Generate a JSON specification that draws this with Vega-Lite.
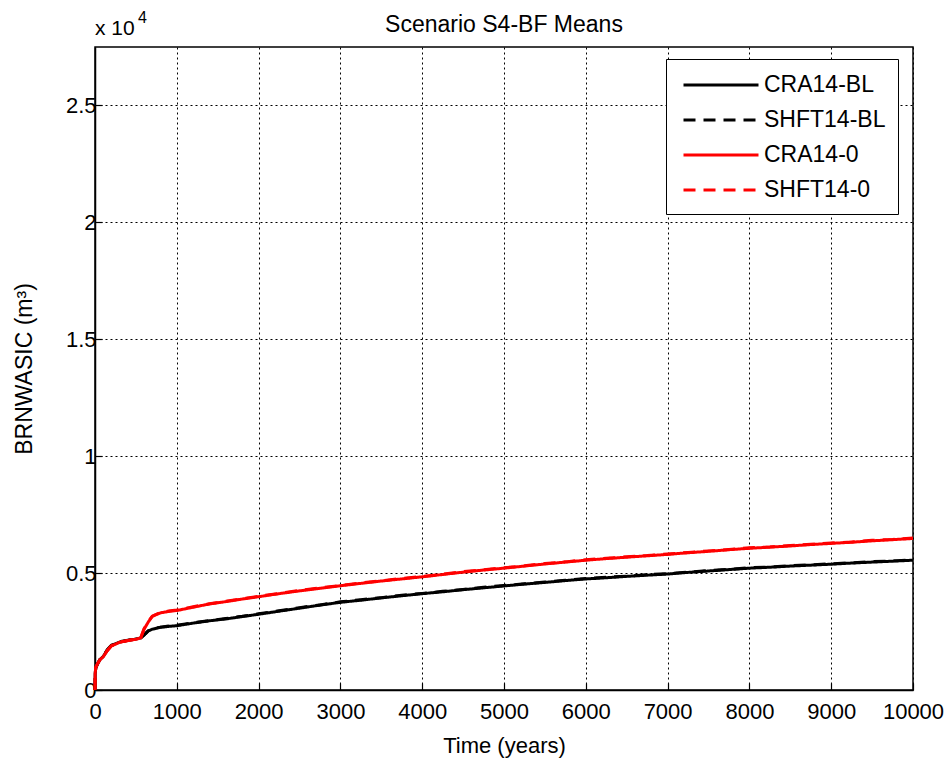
{
  "$schema": "https://vega.github.io/schema/vega-lite/v6.json",
  "width": 818,
  "height": 643,
  "autosize": "none",
  "padding": {"left": 95, "top": 47, "right": 39, "bottom": 71},
  "background": "white",
  "config": {
    "font": "Liberation Sans",
    "view": {"stroke": "black", "strokeWidth": 1.5},
    "axis": {
      "domainColor": "black", "domainWidth": 1.5,
      "gridColor": "black", "gridDash": [2, 3], "gridWidth": 1, "gridOpacity": 1,
      "tickColor": "black", "tickSize": -7, "tickWidth": 1.2,
      "labelColor": "black", "labelFontSize": 22, "labelFont": "Liberation Sans",
      "titleColor": "black", "titleFontSize": 22, "titleFontWeight": "normal", "titleFont": "Liberation Sans"
    }
  },
  "title": {"text": "Scenario S4-BF Means", "fontSize": 23, "fontWeight": "normal", "color": "black", "offset": -45, "frame": "group", "baseline": "alphabetic", "font": "Liberation Sans"},
  "layer": [
    {
      "data": {"values": [
        {"t": 0, "cbl": 0, "sbl": 0, "c0": 0, "s0": 0},
        {"t": 2, "cbl": 700, "sbl": 720, "c0": 720, "s0": 700},
        {"t": 10, "cbl": 950, "sbl": 960, "c0": 980, "s0": 970},
        {"t": 30, "cbl": 1100, "sbl": 1120, "c0": 1120, "s0": 1110},
        {"t": 60, "cbl": 1300, "sbl": 1310, "c0": 1290, "s0": 1300},
        {"t": 100, "cbl": 1430, "sbl": 1440, "c0": 1420, "s0": 1430},
        {"t": 150, "cbl": 1700, "sbl": 1720, "c0": 1680, "s0": 1690},
        {"t": 200, "cbl": 1900, "sbl": 1910, "c0": 1880, "s0": 1890},
        {"t": 300, "cbl": 2050, "sbl": 2060, "c0": 2040, "s0": 2050},
        {"t": 400, "cbl": 2120, "sbl": 2130, "c0": 2110, "s0": 2120},
        {"t": 500, "cbl": 2180, "sbl": 2190, "c0": 2170, "s0": 2180},
        {"t": 560, "cbl": 2230, "sbl": 2230, "c0": 2230, "s0": 2240},
        {"t": 600, "cbl": 2350, "sbl": 2360, "c0": 2600, "s0": 2620},
        {"t": 650, "cbl": 2520, "sbl": 2530, "c0": 2900, "s0": 2910},
        {"t": 700, "cbl": 2600, "sbl": 2610, "c0": 3150, "s0": 3160},
        {"t": 800, "cbl": 2680, "sbl": 2690, "c0": 3300, "s0": 3310},
        {"t": 900, "cbl": 2720, "sbl": 2740, "c0": 3360, "s0": 3380},
        {"t": 1000, "cbl": 2750, "sbl": 2770, "c0": 3400, "s0": 3420},
        {"t": 1200, "cbl": 2860, "sbl": 2880, "c0": 3540, "s0": 3560},
        {"t": 1400, "cbl": 2960, "sbl": 2970, "c0": 3680, "s0": 3690},
        {"t": 1600, "cbl": 3040, "sbl": 3060, "c0": 3780, "s0": 3800},
        {"t": 1800, "cbl": 3140, "sbl": 3150, "c0": 3890, "s0": 3900},
        {"t": 2000, "cbl": 3240, "sbl": 3260, "c0": 3990, "s0": 4010},
        {"t": 2250, "cbl": 3370, "sbl": 3390, "c0": 4120, "s0": 4130},
        {"t": 2500, "cbl": 3500, "sbl": 3520, "c0": 4240, "s0": 4260},
        {"t": 2750, "cbl": 3630, "sbl": 3640, "c0": 4350, "s0": 4370},
        {"t": 3000, "cbl": 3750, "sbl": 3770, "c0": 4460, "s0": 4470},
        {"t": 3250, "cbl": 3840, "sbl": 3860, "c0": 4560, "s0": 4580},
        {"t": 3500, "cbl": 3940, "sbl": 3950, "c0": 4660, "s0": 4670},
        {"t": 3750, "cbl": 4030, "sbl": 4050, "c0": 4750, "s0": 4770},
        {"t": 4000, "cbl": 4120, "sbl": 4130, "c0": 4840, "s0": 4860},
        {"t": 4250, "cbl": 4200, "sbl": 4220, "c0": 4940, "s0": 4950},
        {"t": 4500, "cbl": 4290, "sbl": 4300, "c0": 5040, "s0": 5060},
        {"t": 4750, "cbl": 4370, "sbl": 4390, "c0": 5130, "s0": 5140},
        {"t": 5000, "cbl": 4450, "sbl": 4470, "c0": 5210, "s0": 5230},
        {"t": 5250, "cbl": 4530, "sbl": 4540, "c0": 5300, "s0": 5310},
        {"t": 5500, "cbl": 4600, "sbl": 4620, "c0": 5390, "s0": 5410},
        {"t": 5750, "cbl": 4680, "sbl": 4690, "c0": 5470, "s0": 5480},
        {"t": 6000, "cbl": 4750, "sbl": 4770, "c0": 5550, "s0": 5570},
        {"t": 6250, "cbl": 4800, "sbl": 4820, "c0": 5620, "s0": 5630},
        {"t": 6500, "cbl": 4860, "sbl": 4870, "c0": 5680, "s0": 5700},
        {"t": 6750, "cbl": 4910, "sbl": 4930, "c0": 5740, "s0": 5750},
        {"t": 7000, "cbl": 4960, "sbl": 4980, "c0": 5800, "s0": 5820},
        {"t": 7250, "cbl": 5030, "sbl": 5040, "c0": 5870, "s0": 5880},
        {"t": 7500, "cbl": 5090, "sbl": 5110, "c0": 5930, "s0": 5950},
        {"t": 7750, "cbl": 5150, "sbl": 5160, "c0": 6000, "s0": 6010},
        {"t": 8000, "cbl": 5210, "sbl": 5230, "c0": 6060, "s0": 6080},
        {"t": 8250, "cbl": 5250, "sbl": 5260, "c0": 6110, "s0": 6120},
        {"t": 8500, "cbl": 5300, "sbl": 5320, "c0": 6160, "s0": 6180},
        {"t": 8750, "cbl": 5340, "sbl": 5350, "c0": 6220, "s0": 6230},
        {"t": 9000, "cbl": 5380, "sbl": 5400, "c0": 6270, "s0": 6290},
        {"t": 9250, "cbl": 5430, "sbl": 5440, "c0": 6320, "s0": 6330},
        {"t": 9500, "cbl": 5470, "sbl": 5490, "c0": 6380, "s0": 6400},
        {"t": 9750, "cbl": 5510, "sbl": 5520, "c0": 6430, "s0": 6440},
        {"t": 10000, "cbl": 5550, "sbl": 5570, "c0": 6480, "s0": 6500}
      ]},
      "transform": [
        {"fold": ["cbl", "sbl", "c0", "s0"], "as": ["key", "v"]},
        {"lookup": "key", "from": {"data": {"values": [
          {"key": "cbl", "series": "CRA14-BL", "ord": 1},
          {"key": "sbl", "series": "SHFT14-BL", "ord": 2},
          {"key": "c0", "series": "CRA14-0", "ord": 3},
          {"key": "s0", "series": "SHFT14-0", "ord": 4}
        ]}, "key": "key", "fields": ["series", "ord"]}}
      ],
      "mark": {"type": "line", "strokeWidth": 3, "interpolate": "linear"},
      "encoding": {
        "x": {"field": "t", "type": "quantitative", "scale": {"domain": [0, 10000], "nice": false, "zero": false},
              "axis": {"title": "Time (years)", "values": [0,1000,2000,3000,4000,5000,6000,7000,8000,9000,10000], "format": "d", "labelPadding": 18, "titlePadding": 13, "labelFlush": false}},
        "y": {"field": "v", "type": "quantitative", "scale": {"domain": [0, 27500], "nice": false},
              "axis": {"title": "BRNWASIC (m³)", "titleFontSize": 23, "values": [0,5000,10000,15000,20000,25000], "labelExpr": "datum.value/10000", "labelPadding": 6, "titlePadding": 29}},
        "color": {"field": "series", "type": "nominal",
                  "scale": {"domain": ["CRA14-BL", "SHFT14-BL", "CRA14-0", "SHFT14-0"], "range": ["black", "black", "#ff0000", "#ff0000"]},
                  "legend": {"title": null, "orient": "none", "legendX": 571, "legendY": 12,
                             "fillColor": "white", "strokeColor": "black", "padding": 12,
                             "labelFontSize": 23, "labelColor": "black", "labelFont": "Liberation Sans",
                             "symbolType": "M-3,0H3", "symbolSize": 625, "symbolStrokeWidth": 3,
                             "symbolOffset": 29, "rowPadding": 9, "labelOffset": 29}},
        "strokeDash": {"field": "series", "type": "nominal",
                       "scale": {"domain": ["CRA14-BL", "SHFT14-BL", "CRA14-0", "SHFT14-0"], "range": [[1, 0], [12, 8], [1, 0], [12, 8]]},
                       "legend": null},
        "order": {"field": "ord", "type": "quantitative"}
      }
    },
    {
      "data": {"values": [{"t": 0, "v": 27500, "label": "x 10"}]},
      "mark": {"type": "text", "align": "left", "baseline": "alphabetic", "dy": -12, "fontSize": 21, "color": "black", "font": "Liberation Sans"},
      "encoding": {
        "x": {"field": "t", "type": "quantitative"},
        "y": {"field": "v", "type": "quantitative"},
        "text": {"field": "label"}
      }
    },
    {
      "data": {"values": [{"t": 0, "v": 27500, "label": "4"}]},
      "mark": {"type": "text", "align": "left", "baseline": "alphabetic", "dx": 43, "dy": -24, "fontSize": 16, "color": "black", "font": "Liberation Sans"},
      "encoding": {
        "x": {"field": "t", "type": "quantitative"},
        "y": {"field": "v", "type": "quantitative"},
        "text": {"field": "label"}
      }
    }
  ]
}
